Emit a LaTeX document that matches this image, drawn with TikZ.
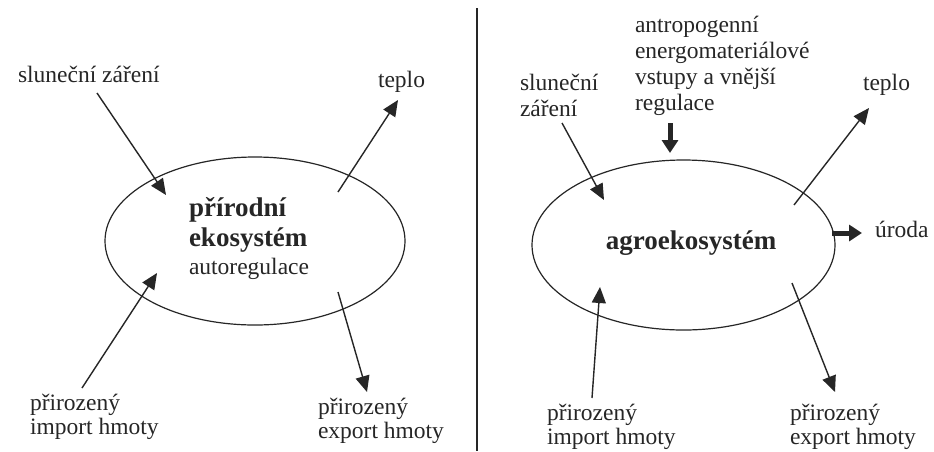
\documentclass[tikz,border=0pt]{standalone}
\usepackage{fontspec}
\setmainfont{Liberation Serif}
\usetikzlibrary{shapes.geometric,arrows.meta}
\definecolor{ink}{HTML}{262626}
\begin{document}
\begin{tikzpicture}[x=1pt,y=-1pt,
  lbl/.style={inner sep=0pt, outer sep=0pt, align=left, text=ink, font=\fontsize{23.5}{24}\selectfont},
  lblwide/.style={lbl, font=\fontsize{23.5}{26}\selectfont},
  title/.style={inner sep=0pt, outer sep=0pt, align=left, text=ink, font=\bfseries\fontsize{27}{30}\selectfont},
  flow/.style={draw=ink, line width=1.4pt, -{Triangle[length=16pt,width=14pt]}},
  bigflow/.style={draw=ink, line width=5pt, -{Triangle[length=13pt,width=16pt]}},
  eco/.style={ellipse, draw=ink, line width=1.2pt, inner sep=0pt},
  divider/.style={draw=ink, line width=1.4pt}]
\useasboundingbox (0,0) rectangle (934,451);
\fill[white] (0,0) rectangle (934,451);

% ---------- left: natural ecosystem ----------
\node[eco, minimum width=300pt, minimum height=168pt] (E1) at (255,241) {};
\node[title, anchor=north west] (T1) at (189,196) {\rule{0pt}{20pt}přírodní\\ekosystém};
\node[lbl, anchor=base west] (A1) at (189,274) {autoregulace};

\node[lbl, anchor=base west] (S1) at (18,82) {sluneční záření};
\node[lbl, anchor=base west] (H1) at (378,87) {teplo};
\node[lbl, anchor=north west] (I1) at (30,392) {\rule{0pt}{18pt}přirozený\\import hmoty};
\node[lbl, anchor=north west] (X1) at (318,396) {\rule{0pt}{18pt}přirozený\\export hmoty};

\coordinate (s1a) at (97,93);   \coordinate (s1b) at (166,195);
\coordinate (h1a) at (338,192); \coordinate (h1b) at (398,100);
\coordinate (i1a) at (82,388);  \coordinate (i1b) at (157,273);
\coordinate (x1a) at (338,292); \coordinate (x1b) at (367,392);
\draw[flow] (s1a) -- (s1b);
\draw[flow] (h1a) -- (h1b);
\draw[flow] (i1a) -- (i1b);
\draw[flow] (x1a) -- (x1b);

% ---------- divider ----------
\coordinate (d1) at (477,8);
\coordinate (d2) at (477,451);
\draw[divider] (d1) -- (d2);

% ---------- right: agroecosystem ----------
\node[eco, minimum width=303pt, minimum height=170pt] (E2) at (683.5,245) {};
\node[title, anchor=base] (T2) at (691,249) {agroekosystém};

\node[lblwide, anchor=north west] (N2) at (635,14) {\rule{0pt}{18pt}antropogenní\\energomateriálové\\vstupy a vnější\\regulace};
\node[lblwide, anchor=north west] (S2) at (520,72) {\rule{0pt}{18pt}sluneční\\záření};
\node[lbl, anchor=base west] (H2) at (863,90) {teplo};
\node[lbl, anchor=base west] (U2) at (875,237) {úroda};
\node[lbl, anchor=north west] (I2) at (547,402) {\rule{0pt}{18pt}přirozený\\import hmoty};
\node[lbl, anchor=north west] (X2) at (790,402) {\rule{0pt}{18pt}přirozený\\export hmoty};

\coordinate (s2a) at (562,123); \coordinate (s2b) at (604,200);
\coordinate (n2a) at (670,123); \coordinate (n2b) at (670,153);
\coordinate (h2a) at (794,205); \coordinate (h2b) at (869,108);
\coordinate (u2a) at (832,233); \coordinate (u2b) at (862,233);
\coordinate (i2a) at (592,398); \coordinate (i2b) at (600,287);
\coordinate (x2a) at (792,283); \coordinate (x2b) at (835,392);
\draw[flow] (s2a) -- (s2b);
\draw[bigflow] (n2a) -- (n2b);
\draw[flow] (h2a) -- (h2b);
\draw[bigflow] (u2a) -- (u2b);
\draw[flow] (i2a) -- (i2b);
\draw[flow] (x2a) -- (x2b);
\end{tikzpicture}
\end{document}
